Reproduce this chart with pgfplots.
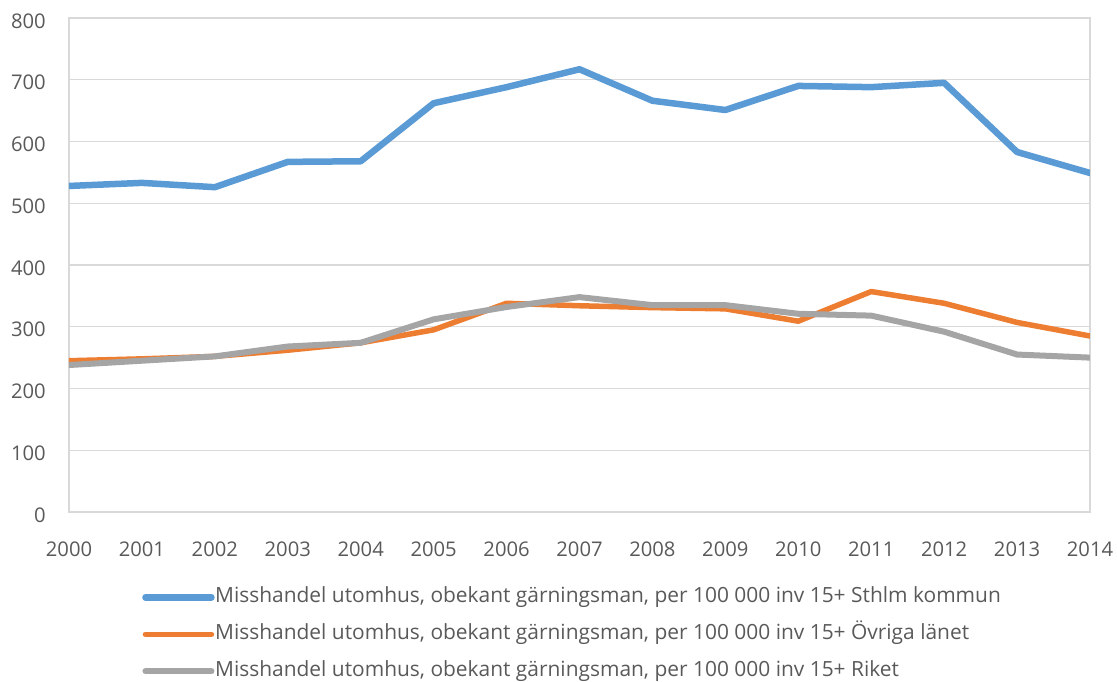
\documentclass[border=0pt]{standalone}
\usepackage{pgfplots}
\pgfplotsset{compat=1.18}
\usepackage{fontspec}
\setmainfont{Open Sans}
\definecolor{cblue}{HTML}{5B9BD5}
\definecolor{corange}{HTML}{ED7D31}
\definecolor{cgray}{HTML}{A5A5A5}
\definecolor{cgrid}{HTML}{D9D9D9}
\definecolor{ctext}{HTML}{595959}
\begin{document}
\begin{tikzpicture}
\useasboundingbox (-69bp,-170bp) rectangle (1048bp,512bp);
\begin{axis}[
  at={(0,0)}, anchor=south west,
  scale only axis, width=1021bp, height=494bp,
  xmin=2000, xmax=2014, ymin=0, ymax=800,
  xtick={2000,2001,...,2014},
  ytick={0,100,...,800},
  major tick length=0pt,
  ymajorgrids, grid style={cgrid, line width=1.2bp},
  axis line style={cgrid, line width=1.2bp},
  /pgf/number format/assume math mode=true,
  /pgf/number format/1000 sep={},
  tick label style={font=\fontsize{20.3}{24}\selectfont, text=ctext, inner sep=0pt},
  xticklabel style={anchor=center, yshift=-37bp},
  yticklabel style={anchor=east, xshift=-23bp, yshift=-3bp},
  legend style={at={(axis description cs:0.0715,-0.152)}, anchor=north west,
    draw=none, fill=none, inner sep=0pt, row sep=17bp,
    font=\fontsize{21}{25}\selectfont, text=ctext,
    nodes={inner sep=0pt, text height=15bp, text depth=5bp}},
  legend cell align=left,
  legend image code/.code={\draw[#1, line cap=round] (0bp,0bp) -- (66bp,0bp);},
  every axis plot/.append style={line join=round, line cap=round},
]
\addplot[cblue, line width=6.5bp] coordinates {
(2000,528) (2001,533) (2002,526) (2003,567) (2004,568) (2005,662) (2006,688)
(2007,717) (2008,666) (2009,651) (2010,690) (2011,688) (2012,695) (2013,583) (2014,549)};
\addlegendentry{\hspace{0.5bp}Misshandel utomhus, obekant gärningsman, per 100 000 inv 15+ Sthlm kommun}
\addplot[corange, line width=5.5bp] coordinates {
(2000,245) (2001,248) (2002,252) (2003,262) (2004,274) (2005,295) (2006,338)
(2007,334) (2008,331) (2009,329) (2010,309) (2011,357) (2012,338) (2013,307) (2014,285)};
\addlegendentry{\hspace{0.5bp}Misshandel utomhus, obekant gärningsman, per 100 000 inv 15+ Övriga länet}
\addplot[cgray, line width=6bp] coordinates {
(2000,238) (2001,245) (2002,252) (2003,268) (2004,274) (2005,312) (2006,332)
(2007,348) (2008,335) (2009,335) (2010,321) (2011,318) (2012,292) (2013,255) (2014,250)};
\addlegendentry{\hspace{0.5bp}Misshandel utomhus, obekant gärningsman, per 100 000 inv 15+ Riket}
\end{axis}
\end{tikzpicture}
\end{document}
